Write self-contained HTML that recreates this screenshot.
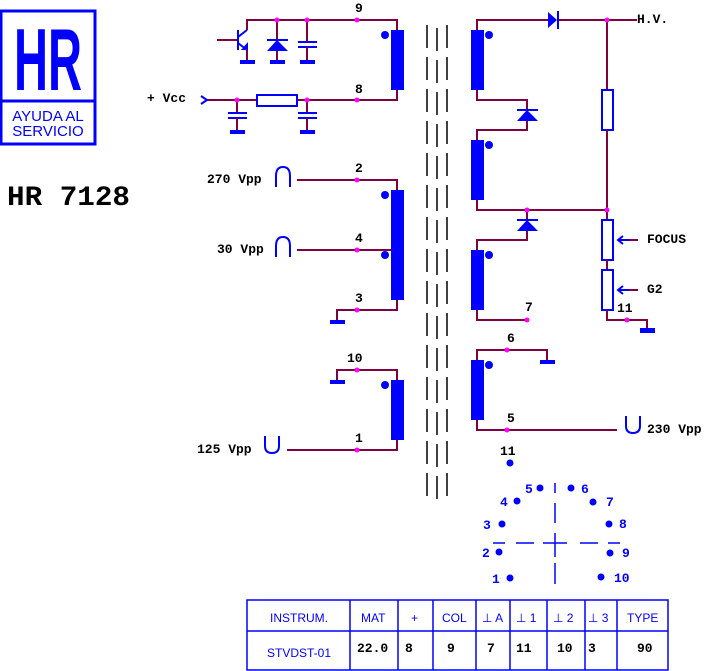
<!DOCTYPE html>
<html><head><style>
body{margin:0;background:#fff;}
svg{display:block;}
.w{stroke:#800040;stroke-width:2;fill:none;}
.b{fill:#0000ff;}
.bl{stroke:#0000ff;stroke-width:2;fill:none;}
.j{fill:#ff00ff;}
.t{font-family:"Liberation Mono",monospace;font-weight:bold;font-size:13px;fill:#000;}
.s{font-family:"Liberation Mono",monospace;font-weight:bold;font-size:13px;fill:#0000ff;}
.h{font-family:"Liberation Sans",sans-serif;font-size:12px;fill:#0000ff;}
.core{stroke:#000;stroke-width:1.5;stroke-dasharray:23 9;}
</style></head><body>
<svg width="712" height="671" viewBox="0 0 712 671" xmlns="http://www.w3.org/2000/svg">
<!-- logo -->
<rect x="1" y="11" width="94" height="133" fill="none" stroke="#0000ff" stroke-width="3"/>
<line x1="1" y1="101" x2="95" y2="101" stroke="#0000ff" stroke-width="3"/>
<text x="48" y="90" text-anchor="middle" font-family="Liberation Sans,sans-serif" font-weight="bold" font-size="88" fill="#0000ff" textLength="68" lengthAdjust="spacingAndGlyphs">HR</text>
<text x="48" y="121" text-anchor="middle" font-family="Liberation Sans,sans-serif" font-size="15" fill="#0000ff">AYUDA AL</text>
<text x="48" y="136" text-anchor="middle" font-family="Liberation Sans,sans-serif" font-size="15" fill="#0000ff">SERVICIO</text>
<text x="7" y="205" font-family="Liberation Mono,monospace" font-weight="bold" font-size="28" textLength="123" lengthAdjust="spacingAndGlyphs">HR 7128</text>

<!-- core -->
<line class="core" x1="427" y1="25" x2="427" y2="500"/>
<line class="core" x1="437" y1="20" x2="437" y2="500" stroke-dashoffset="-8"/>
<line class="core" x1="447" y1="25" x2="447" y2="500"/>

<!-- top left circuit -->
<polyline class="w" points="247,30 247,20 397,20 397,30"/>
<polyline class="w" points="207,100 257,100"/>
<polyline class="w" points="297,100 397,100 397,90"/>
<rect class="b" x="391" y="30" width="13" height="60"/>
<circle class="b" cx="385" cy="35" r="4"/>
<text class="t" x="355" y="12">9</text><text class="t" x="355" y="93">8</text>
<!-- transistor -->
<line class="w" x1="217" y1="40" x2="237" y2="40" stroke="#800040"/>
<line class="bl" x1="238" y1="30" x2="238" y2="50"/>
<line class="bl" x1="238" y1="37" x2="247" y2="30"/>
<line class="bl" x1="238" y1="43" x2="247" y2="50"/>
<polygon class="b" points="241,50 248,42 248,50"/>
<line class="w" x1="247" y1="50" x2="247" y2="61"/>
<rect class="b" x="240" y="60" width="15" height="4"/>
<!-- zener -->
<line class="w" x1="277" y1="20" x2="277" y2="40"/>
<line class="bl" x1="267" y1="40" x2="288" y2="40"/>
<polygon class="b" points="277,40 267,51 288,51"/>
<line class="w" x1="277" y1="51" x2="277" y2="61"/>
<rect class="b" x="270" y="60" width="15" height="4"/>
<!-- cap -->
<line class="w" x1="307" y1="20" x2="307" y2="42"/>
<line class="bl" x1="298" y1="42" x2="317" y2="42"/>
<line class="bl" x1="298" y1="47" x2="317" y2="47"/>
<line class="w" x1="307" y1="47" x2="307" y2="61"/>
<rect class="b" x="300" y="60" width="15" height="4"/>
<!-- vcc -->
<text class="t" x="147" y="102">+ Vcc</text>
<polyline class="bl" stroke-width="1.5" points="201,96 207,100 201,104"/>
<rect x="257" y="95" width="40" height="11" fill="#fff" stroke="#0000ff" stroke-width="2"/>
<line class="w" x1="237" y1="100" x2="237" y2="113"/>
<line class="bl" x1="228" y1="113" x2="247" y2="113"/>
<line class="bl" x1="228" y1="118" x2="247" y2="118"/>
<line class="w" x1="237" y1="118" x2="237" y2="131"/>
<rect class="b" x="230" y="130" width="15" height="4"/>
<line class="w" x1="307" y1="100" x2="307" y2="113"/>
<line class="bl" x1="298" y1="113" x2="317" y2="113"/>
<line class="bl" x1="298" y1="118" x2="317" y2="118"/>
<line class="w" x1="307" y1="118" x2="307" y2="131"/>
<rect class="b" x="300" y="130" width="15" height="4"/>
<g class="j"><circle cx="277" cy="20" r="2.5"/><circle cx="307" cy="20" r="2.5"/><circle cx="357" cy="20" r="2.5"/><circle cx="237" cy="100" r="2.5"/><circle cx="307" cy="100" r="2.5"/><circle cx="357" cy="100" r="2.5"/></g>

<!-- second winding -->
<polyline class="w" points="297,180 397,180 397,190"/>
<line class="w" x1="297" y1="250" x2="397" y2="250"/>
<polyline class="w" points="337,320 337,310 397,310 397,300"/>
<rect class="b" x="330" y="320" width="15" height="4"/>
<rect class="b" x="391" y="190" width="13" height="110"/>
<circle class="b" cx="385" cy="195" r="4"/><circle class="b" cx="385" cy="255" r="4"/>
<text class="t" x="355" y="172">2</text><text class="t" x="355" y="242">4</text><text class="t" x="355" y="302">3</text>
<text class="t" x="207" y="183">270 Vpp</text>
<text class="t" x="217" y="253">30 Vpp</text>
<path class="bl" stroke-width="1.3" d="M276,187 L276,176 Q276,167 283,167 Q290,167 290,176 L290,187"/>
<path class="bl" stroke-width="1.3" d="M276,257 L276,246 Q276,237 283,237 Q290,237 290,246 L290,257"/>
<!-- third -->
<polyline class="w" points="337,380 337,370 397,370 397,380"/>
<rect class="b" x="330" y="380" width="15" height="4"/>
<rect class="b" x="391" y="380" width="13" height="60"/>
<circle class="b" cx="385" cy="385" r="4"/>
<polyline class="w" points="287,450 397,450 397,440"/>
<text class="t" x="347" y="362">10</text><text class="t" x="355" y="442">1</text>
<text class="t" x="197" y="453">125 Vpp</text>
<path class="bl" stroke-width="1.3" d="M265,436 L265,446 Q265,453 272,453 Q279,453 279,446 L279,436"/>
<g class="j"><circle cx="357" cy="180" r="2.5"/><circle cx="357" cy="250" r="2.5"/><circle cx="357" cy="310" r="2.5"/><circle cx="357" cy="370" r="2.5"/><circle cx="357" cy="450" r="2.5"/></g>

<!-- right side -->
<polyline class="w" points="477,30 477,20 548,20"/>
<line class="w" x1="557" y1="20" x2="637" y2="20"/>
<polygon class="b" points="548,12 557,20 548,28"/>
<line class="bl" x1="558" y1="11" x2="558" y2="29"/>
<text class="t" x="637" y="23">H.V.</text>
<rect class="b" x="471" y="30" width="13" height="60"/><circle class="b" cx="489" cy="35" r="4"/>
<polyline class="w" points="477,90 477,100 527,100 527,110"/>
<line class="bl" x1="517" y1="110" x2="538" y2="110"/>
<polygon class="b" points="527,110 517,121 538,121"/>
<polyline class="w" points="527,121 527,130 477,130 477,140"/>
<rect class="b" x="471" y="140" width="13" height="60"/><circle class="b" cx="489" cy="145" r="4"/>
<polyline class="w" points="477,200 477,210 607,210"/>
<line class="w" x1="527" y1="210" x2="527" y2="220"/>
<line class="bl" x1="517" y1="220" x2="538" y2="220"/>
<polygon class="b" points="527,220 517,231 538,231"/>
<polyline class="w" points="527,231 527,240 477,240 477,250"/>
<rect class="b" x="471" y="250" width="13" height="60"/><circle class="b" cx="489" cy="255" r="4"/>
<polyline class="w" points="477,310 477,320 527,320"/>
<text class="t" x="525" y="311">7</text>
<!-- divider -->
<line class="w" x1="607" y1="20" x2="607" y2="90"/>
<rect x="602" y="90" width="11" height="40" fill="#fff" stroke="#0000ff" stroke-width="2"/>
<line class="w" x1="607" y1="130" x2="607" y2="220"/>
<rect x="602" y="220" width="11" height="40" fill="#fff" stroke="#0000ff" stroke-width="2"/>
<line class="w" x1="607" y1="260" x2="607" y2="270"/>
<rect x="602" y="270" width="11" height="40" fill="#fff" stroke="#0000ff" stroke-width="2"/>
<polyline class="w" points="607,310 607,320 647,320 647,329"/>
<rect class="b" x="640" y="328" width="15" height="5"/>
<text class="t" x="617" y="312">11</text>
<line class="w" x1="628" y1="240" x2="638" y2="240"/>
<line class="bl" stroke-width="1.3" x1="618" y1="240" x2="629" y2="240"/>
<polyline class="bl" stroke-width="1.3" points="623,236 618,240 623,244"/>
<line class="w" x1="628" y1="290" x2="638" y2="290"/>
<line class="bl" stroke-width="1.3" x1="618" y1="290" x2="629" y2="290"/>
<polyline class="bl" stroke-width="1.3" points="623,286 618,290 623,294"/>
<text class="t" x="647" y="243">FOCUS</text>
<text class="t" x="647" y="293">G2</text>
<!-- coil 4 -->
<polyline class="w" points="477,360 477,350 547,350 547,361"/>
<rect class="b" x="540" y="360" width="15" height="4"/>
<rect class="b" x="471" y="360" width="13" height="60"/><circle class="b" cx="489" cy="365" r="4"/>
<polyline class="w" points="477,420 477,430 617,430"/>
<text class="t" x="507" y="342">6</text><text class="t" x="507" y="422">5</text>
<path class="bl" stroke-width="1.3" d="M626,416 L626,426 Q626,433 633,433 Q640,433 640,426 L640,416"/>
<text class="t" x="647" y="433">230 Vpp</text>
<g class="j"><circle cx="607" cy="20" r="2.5"/><circle cx="527" cy="210" r="2.5"/><circle cx="607" cy="210" r="2.5"/><circle cx="527" cy="320" r="2.5"/><circle cx="627" cy="320" r="2.5"/><circle cx="507" cy="350" r="2.5"/><circle cx="507" cy="430" r="2.5"/></g>

<!-- socket -->
<text class="t" x="500" y="455">11</text>
<g class="b"><circle cx="510" cy="463" r="3.5"/><circle cx="540" cy="488" r="3.5"/><circle cx="571" cy="488" r="3.5"/><circle cx="517" cy="501" r="3.5"/><circle cx="593" cy="502" r="3.5"/><circle cx="502" cy="524" r="3.5"/><circle cx="609" cy="524" r="3.5"/><circle cx="499" cy="552" r="3.5"/><circle cx="610" cy="553" r="3.5"/><circle cx="510" cy="578" r="3.5"/><circle cx="601" cy="577" r="3.5"/></g>
<text class="s" x="525" y="493">5</text><text class="s" x="581" y="493">6</text>
<text class="s" x="500" y="506">4</text><text class="s" x="606" y="506">7</text>
<text class="s" x="483" y="529">3</text><text class="s" x="619" y="528">8</text>
<text class="s" x="482" y="557">2</text><text class="s" x="622" y="557">9</text>
<text class="s" x="492" y="583">1</text><text class="s" x="614" y="582">10</text>
<g stroke="#0000ff" stroke-width="1.5">
<line x1="555" y1="483" x2="555" y2="493"/><line x1="555" y1="503" x2="555" y2="523"/><line x1="555" y1="533" x2="555" y2="557"/><line x1="555" y1="563" x2="555" y2="584"/>
<line x1="493" y1="543" x2="505" y2="543"/><line x1="516" y1="543" x2="534" y2="543"/><line x1="543" y1="543" x2="567" y2="543"/><line x1="580" y1="543" x2="598" y2="543"/><line x1="608" y1="543" x2="620" y2="543"/>
</g>

<!-- table -->
<g stroke="#0000ff" stroke-width="1.5" fill="none">
<rect x="247" y="600" width="421" height="70"/>
<line x1="247" y1="631" x2="668" y2="631"/>
<line x1="350" y1="600" x2="350" y2="670"/><line x1="398" y1="600" x2="398" y2="670"/><line x1="433" y1="600" x2="433" y2="670"/><line x1="476" y1="600" x2="476" y2="670"/><line x1="510" y1="600" x2="510" y2="670"/><line x1="547" y1="600" x2="547" y2="670"/><line x1="585" y1="600" x2="585" y2="670"/><line x1="617" y1="600" x2="617" y2="670"/>
</g>
<g class="h">
<text x="270" y="622">INSTRUM.</text><text x="361" y="622">MAT</text><text x="411" y="622">+</text><text x="442" y="622">COL</text><text x="482" y="622">⊥ A</text><text x="516" y="622">⊥ 1</text><text x="553" y="622">⊥ 2</text><text x="588" y="622">⊥ 3</text><text x="627" y="622">TYPE</text>
<text x="267" y="657">STVDST-01</text>
</g>
<g class="t">
<text x="357" y="652">22.0</text><text x="405" y="652">8</text><text x="447" y="652">9</text><text x="487" y="652">7</text><text x="516" y="652">11</text><text x="557" y="652">10</text><text x="588" y="652">3</text><text x="637" y="652">90</text>
</g>
</svg>
</body></html>
